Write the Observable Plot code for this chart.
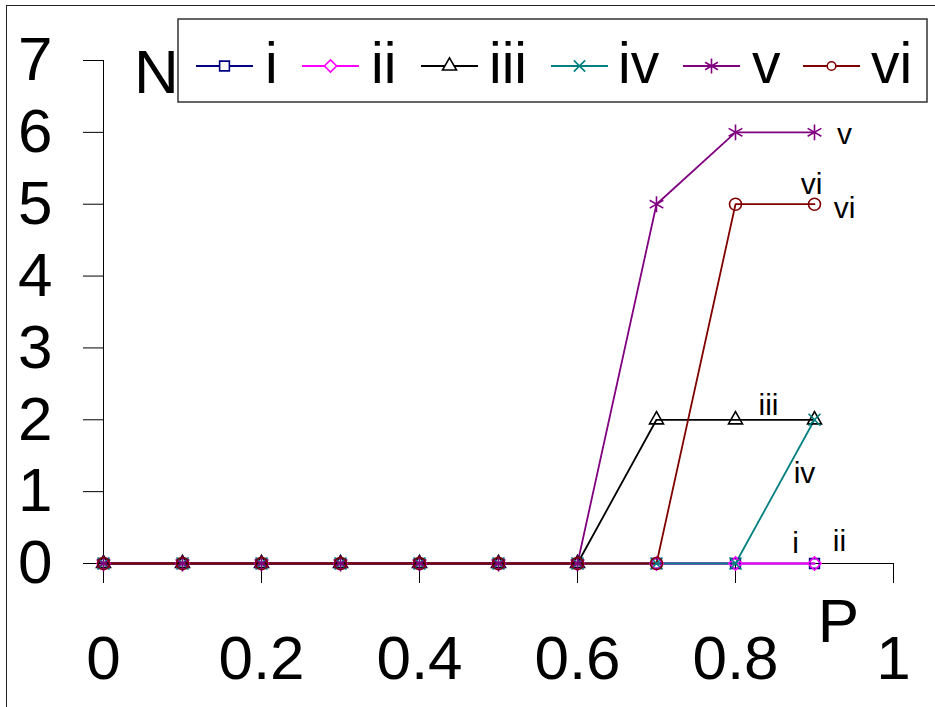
<!DOCTYPE html>
<html><head><meta charset="utf-8">
<script src="https://cdn.jsdelivr.net/npm/d3@7"></script>
<script src="https://cdn.jsdelivr.net/npm/@observablehq/plot@0.6"></script>
<style>
html,body{margin:0;padding:0;background:#fff;overflow:hidden;width:935px;height:707px;}
#frame{position:absolute;left:6px;top:5px;width:1000px;height:800px;border:1.5px solid #222;box-sizing:border-box;}
#chart{position:absolute;left:0;top:0;}
</style></head><body><div id="frame"></div><div id="chart"></div>
<script>
const P = [0, 0.1, 0.2, 0.3, 0.4, 0.5, 0.6, 0.7, 0.8, 0.9];
const seriesNames = ["i", "ii", "iii", "iv", "v", "vi"];
const seriesI   = [0, 0, 0, 0, 0, 0, 0, 0, 0, 0];
const seriesII  = [0, 0, 0, 0, 0, 0, 0, 0, 0, 0];
const seriesIII = [0, 0, 0, 0, 0, 0, 0, 2, 2, 2];
const seriesIV  = [0, 0, 0, 0, 0, 0, 0, 0, 0, 2];
const seriesV   = [0, 0, 0, 0, 0, 0, 0, 5, 6, 6];
const seriesVI  = [0, 0, 0, 0, 0, 0, 0, 0, 5, 5];
const seriesColors = ["#000080", "#ff00ff", "#000000", "#008080", "#800080", "#800000"];
const seriesSymbols = ["square", "diamond2", "triangle", "times", "asterisk", "circle"];
const xTicks = [0, 0.2, 0.4, 0.6, 0.8, 1];
const xTickLabels = ["0", "0.2", "0.4", "0.6", "0.8", "1"];
const yTicks = [0, 1, 2, 3, 4, 5, 6, 7];
const yTickLabels = ["0", "1", "2", "3", "4", "5", "6", "7"];
const xTitle = "P";
const yTitle = "N";
// end-of-line annotations: text and the data point they sit next to
const annotations = [
  {text: "v",   P: 0.9, N: 6},
  {text: "vi",  P: 0.9, N: 5},
  {text: "vi",  P: 0.9, N: 5},
  {text: "iii", P: 0.8, N: 2},
  {text: "iv",  P: 0.9, N: 2},
  {text: "i",   P: 0.9, N: 0},
  {text: "ii",  P: 0.9, N: 0}
];

// ---- styling / layout (not data) ----
const annoOffsets = [[30, 2], [-3, -20], [30, 4], [33, -14], [-10, 54], [-19, -20], [25, -22]];
const markerR = [5.5, 6, 5.2, 5.5, 7.5, 6];
const legendMarkerR = [5.5, 5.5, 5.2, 5.2, 7, 4.3];
const font = "'Liberation Sans', Arial, sans-serif";
const W = 935, H = 707;
const mL = 103, mR = 42, mT = 60, mB = 144;

const allSeries = [seriesI, seriesII, seriesIII, seriesIV, seriesV, seriesVI];
const data = seriesNames.flatMap((s, k) => P.map((p, j) => ({series: s, P: p, N: allSeries[k][j]})));

const plot = Plot.plot({
  width: W, height: H,
  marginLeft: mL, marginRight: mR, marginTop: mT, marginBottom: mB,
  style: {fontFamily: font, background: "transparent", overflow: "visible"},
  x: {domain: [0, 1]},
  y: {domain: [0, 7]},
  color: {domain: seriesNames, range: seriesColors},
  symbol: {domain: seriesNames, range: seriesSymbols},
  marks: [
    Plot.axisY({ticks: yTicks, tickFormat: (d) => yTickLabels[yTicks.indexOf(d)], tickSize: 20, tickPadding: 31, fontSize: 62, label: null, stroke: "#000", strokeWidth: 1}),
    Plot.axisX({ticks: xTicks, tickFormat: (d) => xTickLabels[xTicks.indexOf(d)], tickSize: 20, tickPadding: 51, fontSize: 62, label: null, stroke: "#000", strokeWidth: 1}),
    Plot.ruleX([0], {y1: 0, y2: 7, stroke: "#000", strokeWidth: 1}),
    Plot.ruleY([0], {x1: 0, x2: 1, stroke: "#000", strokeWidth: 1}),
    ...seriesNames.map((s) => Plot.line(data.filter(d => d.series === s), {x: "P", y: "N", stroke: "series", strokeWidth: 1.8})),
    ...seriesNames.map((s, k) => Plot.dot(data.filter(d => d.series === s), {x: "P", y: "N", stroke: "series", symbol: "series", r: markerR[k], strokeWidth: 1.6, fill: "none"})),
    Plot.text(annotations, {x: "P", y: "N", text: "text", fontSize: 30, fill: "#000", className: "anno"}),
    Plot.text([xTitle], {x: 0.9, y: 0, text: (d) => d, fontSize: 62, dx: 24, dy: 59, textAnchor: "middle"}),
    Plot.text([yTitle], {x: 0, y: 7, text: (d) => d, fontSize: 62, dx: 53, dy: 13, textAnchor: "middle"})
  ]
});
plot.querySelectorAll("g.anno text").forEach((t, i) => {
  t.setAttribute("dx", annoOffsets[i][0]);
  t.setAttribute("dy", annoOffsets[i][1]);
});
document.getElementById("chart").appendChild(plot);

// legend
const svg = d3.select(plot);
const lg = svg.append("g").attr("font-family", font).attr("text-anchor", "start");
lg.append("rect").attr("x", 178).attr("y", 19).attr("width", 749).attr("height", 83)
  .attr("fill", "#fff").attr("stroke", "#333").attr("stroke-width", 1.5);
const symMap = {square: d3.symbolSquare, diamond2: d3.symbolDiamond2, triangle: d3.symbolTriangle, times: d3.symbolTimes, asterisk: d3.symbolAsterisk, circle: d3.symbolCircle};
const legLineX = [196, 302, 421, 551, 683, 803];
const legTextX = [265, 371, 489, 618, 752, 871];
const segLen = 57, legY = 66;
seriesNames.forEach((s, k) => {
  const x0 = legLineX[k];
  lg.append("line").attr("x1", x0).attr("x2", x0 + segLen).attr("y1", legY).attr("y2", legY)
    .attr("stroke", seriesColors[k]).attr("stroke-width", 2);
  const r = legendMarkerR[k];
  lg.append("path").attr("d", d3.symbol(symMap[seriesSymbols[k]], r * r * Math.PI)())
    .attr("transform", `translate(${x0 + segLen / 2},${legY})`)
    .attr("fill", "#fff").attr("stroke", seriesColors[k]).attr("stroke-width", 1.6);
  lg.append("text").attr("x", legTextX[k]).attr("y", 83).attr("font-size", 57).attr("text-anchor", "start").text(s);
});
</script></body></html>
